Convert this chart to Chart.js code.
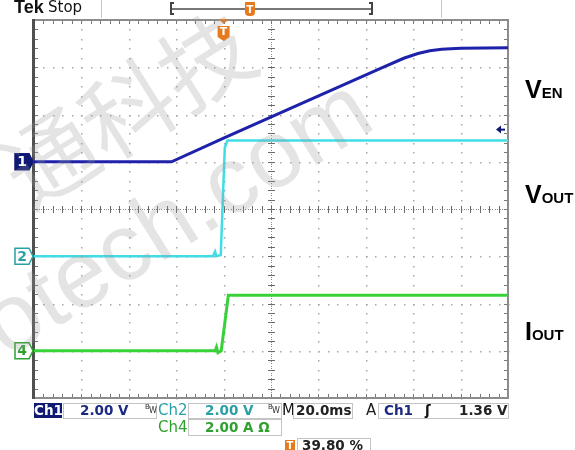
<!DOCTYPE html>
<html>
<head>
<meta charset="utf-8">
<script src="https://cdn.jsdelivr.net/npm/chart.js@4"></script>
<style>
  html, body { margin:0; padding:0; background:#fff; }
  #wrap { position:relative; width:575px; height:450px; overflow:hidden; background:#fff; }
  #c { position:absolute; left:0; top:0; }
  .t { position:absolute; white-space:nowrap; font-family:"DejaVu Sans", sans-serif; font-weight:bold; font-size:13.5px; line-height:15px; }
  .box { position:absolute; border:1px solid #c4c4c4; box-sizing:border-box; background:#fff; }
  .lbl { position:absolute; font-family:"Liberation Sans", Arial, sans-serif; font-weight:bold; font-size:25px; line-height:25px; color:#000; white-space:nowrap; }
  .lbl span { font-size:15px; }
  .wm { position:absolute; white-space:nowrap; color:rgba(150,150,150,0.26); transform-origin:center center; pointer-events:none; }
  .bw { position:absolute; font-family:"DejaVu Sans", sans-serif; color:#333; white-space:nowrap; }
</style>
</head>
<body>
<div id="wrap">
  <canvas id="c" width="575" height="450"></canvas>

  <!-- top status bar -->
  <div class="t" style="left:14px;top:-2px;font-family:'Liberation Sans',Arial,sans-serif;font-size:18px;line-height:19px;color:#111;">Tek</div>
  <div class="t" style="left:48px;top:-1px;font-family:'DejaVu Sans',sans-serif;font-weight:normal;font-size:15px;line-height:17px;color:#111;">Stop</div>
  <div style="position:absolute;left:101px;top:0;width:1px;height:18px;background:#c8c8c8;"></div>
  <div style="position:absolute;left:441px;top:0;width:1px;height:18px;background:#c8c8c8;"></div>
  <div style="position:absolute;left:170px;top:2px;width:2px;height:13px;background:#444;"></div>
  <div style="position:absolute;left:170px;top:2px;width:4px;height:2px;background:#444;"></div>
  <div style="position:absolute;left:170px;top:13px;width:4px;height:2px;background:#444;"></div>
  <div style="position:absolute;left:172px;top:8px;width:200px;height:2px;background:#777;"></div>
  <div style="position:absolute;left:371px;top:2px;width:2px;height:13px;background:#444;"></div>
  <div style="position:absolute;left:369px;top:2px;width:4px;height:2px;background:#444;"></div>
  <div style="position:absolute;left:369px;top:13px;width:4px;height:2px;background:#444;"></div>
  <div style="position:absolute;left:245px;top:2px;width:10px;height:3px;background:#e67a1e;"></div>
  <div class="t" style="left:245px;top:4px;width:10px;height:12px;background:#e67a1e;color:#fff;font-size:10px;line-height:12px;text-align:center;border-radius:0 0 4px 4px;">T</div>

  <!-- right side labels -->
  <div class="lbl" style="left:525px;top:77px;">V<span>EN</span></div>
  <div class="lbl" style="left:525px;top:182px;">V<span>OUT</span></div>
  <div class="lbl" style="left:525px;top:319px;">I<span>OUT</span></div>

  <!-- bottom readouts -->
  <div class="t" style="left:34px;top:403px;width:28px;height:15px;background:#101a72;color:#fff;text-align:center;">Ch1</div>
  <div class="box" style="left:63px;top:403px;width:94px;height:16px;"></div>
  <div class="t" style="left:80px;top:403px;color:#1c2a82;">2.00 V</div>
  <div class="bw" style="left:145px;top:403px;font-size:7px;">B</div>
  <div class="bw" style="left:149px;top:406px;font-size:8px;">W</div>
  <div class="t" style="left:158px;top:403px;color:#2a9fa6;font-weight:normal;font-size:15px;">Ch2</div>
  <div class="box" style="left:188px;top:403px;width:94px;height:16px;"></div>
  <div class="t" style="left:205px;top:403px;color:#2a9fa6;">2.00 V</div>
  <div class="bw" style="left:268px;top:403px;font-size:7px;">B</div>
  <div class="bw" style="left:272px;top:406px;font-size:8px;">W</div>
  <div class="t" style="left:282px;top:403px;color:#111;font-weight:normal;font-size:15px;">M</div>
  <div class="box" style="left:293px;top:403px;width:60px;height:16px;"></div>
  <div class="t" style="left:296px;top:403px;color:#222;">20.0ms</div>
  <div class="t" style="left:366px;top:403px;color:#222;font-weight:normal;font-size:15px;">A</div>
  <div class="box" style="left:378px;top:403px;width:131px;height:16px;"></div>
  <div class="t" style="left:384px;top:403px;color:#1c2a82;">Ch1</div>
  <div class="t" style="left:425px;top:403px;color:#111;">ʃ</div>
  <div class="t" style="left:459px;top:403px;color:#222;">1.36 V</div>

  <div class="t" style="left:158px;top:420px;color:#2ea12e;font-weight:normal;font-size:15px;">Ch4</div>
  <div class="box" style="left:188px;top:419px;width:94px;height:17px;"></div>
  <div class="t" style="left:205px;top:420px;color:#2ea12e;">2.00 A Ω</div>

  <div class="t" style="left:285px;top:440px;width:10px;height:11px;background:#e67a1e;color:#fff;font-size:10px;line-height:11px;text-align:center;">T</div>
  <div class="box" style="left:297px;top:438px;width:74px;height:16px;"></div>
  <div class="t" style="left:302px;top:438px;color:#222;">39.80 %</div>

  <!-- watermark -->
  <div class="wm" style="left:125px;top:105px;font-family:'Noto Sans CJK SC',sans-serif;font-size:92px;line-height:92px;transform:translate(-50%,-50%) rotate(-32deg);">通科技</div>
  <div class="wm" style="left:175px;top:215px;font-family:'Liberation Sans',Arial,sans-serif;font-size:95px;line-height:95px;transform:translate(-50%,-50%) rotate(-32deg);">otech.com</div>
</div>

<script>
// ---- data ----
// time axis: ms relative to trigger; 20 ms/div, 10 divisions
const timeDivLabels = [-80, -60, -40, -20, 0, 20, 40, 60, 80, 100, 120];

// Ch1: V_EN (volts), 2 V/div, ground at +1 div
const ch1_time = [-80, -22, 0, 32, 66, 76, 82, 87, 92, 100, 120];
const ch1_volts = [0, 0, 1.0, 2.43, 3.94, 4.38, 4.58, 4.70, 4.76, 4.80, 4.83];

// Ch2: V_OUT (volts), 2 V/div, ground at -1 div
const ch2_time = [-80, -4.5, -3.6, -3.0, -1.2, 0.5, 1.6, 120];
const ch2_volts = [0, 0, 0.2, 0.0, 0.05, 4.6, 4.9, 4.9];

// Ch4: I_OUT (amps), 2 A/div, ground at -3 div
const ch4_time = [-80, -3.5, -3.0, -2.4, -1.0, 2.0, 120];
const ch4_amps = [0, 0, 0.15, -0.08, 0, 2.35, 2.35];

const channelGroundDiv = { ch1: 1, ch2: -1, ch4: -3 };
const channelPerDiv = { ch1: 2, ch2: 2, ch4: 2 };
const triggerLevelV = 1.36;

function toDiv(times, vals, ch) {
  return times.map((t, i) => ({ x: t, y: channelGroundDiv[ch] + vals[i] / channelPerDiv[ch] }));
}

const gridPlugin = {
  id: 'scopeGrid',
  beforeDatasetsDraw(chart) {
    const ctx = chart.ctx, xs = chart.scales.x, ys = chart.scales.y;
    const { left, right, top, bottom } = chart.chartArea;
    ctx.save();
    ctx.fillStyle = '#a8a8a8';
    for (let i = 1; i < 10; i++) {
      if (i === 5) continue;
      const px = Math.round(xs.getPixelForValue(-80 + i * 20));
      for (let k = 0; k <= 40; k++) {
        const py = ys.getPixelForValue(-4 + k * 0.2);
        ctx.fillRect(px, Math.round(py), 1.5, 1.5);
      }
    }
    for (let j = 1; j < 8; j++) {
      if (j === 4) continue;
      const py = Math.round(ys.getPixelForValue(-4 + j));
      for (let k = 0; k <= 50; k++) {
        const px = xs.getPixelForValue(-80 + k * 4);
        ctx.fillRect(Math.round(px), py, 1.5, 1.5);
      }
    }
    ctx.fillStyle = '#8a8a8a';
    const cx = Math.round(xs.getPixelForValue(20));
    const cy = Math.round(ys.getPixelForValue(0));
    for (let p = top; p <= bottom; p += 2.4) ctx.fillRect(cx, Math.round(p), 1, 1);
    for (let p = left; p <= right; p += 2.4) ctx.fillRect(Math.round(p), cy, 1, 1);
    ctx.fillStyle = '#6a6a6a';
    for (let k = 0; k <= 40; k++) {
      const py = Math.round(ys.getPixelForValue(-4 + k * 0.2));
      ctx.fillRect(cx - 3, py, 7, 1);
    }
    for (let k = 0; k <= 50; k++) {
      const px = Math.round(xs.getPixelForValue(-80 + k * 4));
      ctx.fillRect(px, cy - 3, 1, 7);
    }
    ctx.fillStyle = '#777';
    for (let k = 0; k <= 50; k++) {
      const px = Math.round(xs.getPixelForValue(-80 + k * 4));
      ctx.fillRect(px, top, 1, 4);
      ctx.fillRect(px, bottom - 4, 1, 4);
    }
    for (let k = 0; k <= 40; k++) {
      const py = Math.round(ys.getPixelForValue(-4 + k * 0.2));
      ctx.fillRect(left, py, 4, 1);
      ctx.fillRect(right - 4, py, 4, 1);
    }
    ctx.strokeStyle = '#8c8c8c';
    ctx.lineWidth = 2;
    ctx.strokeRect(left, top, right - left, bottom - top);
    ctx.fillStyle = '#505050';
    ctx.fillRect(left - 2, top - 1, 3, bottom - top + 2);
    ctx.restore();
  },
  afterDraw(chart) {
    const ctx = chart.ctx, xs = chart.scales.x, ys = chart.scales.y;
    const { left, right, top } = chart.chartArea;
    ctx.save();
    const marks = [
      { ch: 'ch1', txt: '1', fill: '#101a72', stroke: '#101a72', color: '#fff' },
      { ch: 'ch2', txt: '2', fill: '#fff', stroke: '#2a9fa6', color: '#2a9fa6' },
      { ch: 'ch4', txt: '4', fill: '#fff', stroke: '#2ea12e', color: '#2ea12e' }
    ];
    marks.forEach(m => {
      const py = ys.getPixelForValue(channelGroundDiv[m.ch]);
      const x0 = left - 19, x1 = left - 5;
      ctx.beginPath();
      ctx.moveTo(x0, py - 8);
      ctx.lineTo(x1, py - 8);
      ctx.lineTo(left - 1, py);
      ctx.lineTo(x1, py + 8);
      ctx.lineTo(x0, py + 8);
      ctx.closePath();
      ctx.fillStyle = m.fill;
      ctx.fill();
      ctx.lineWidth = 1.5;
      ctx.strokeStyle = m.stroke;
      ctx.stroke();
      ctx.fillStyle = m.color;
      ctx.font = 'bold 14px "DejaVu Sans", sans-serif';
      ctx.textAlign = 'center';
      ctx.textBaseline = 'middle';
      ctx.fillText(m.txt, x0 + 7, py + 1);
    });
    const ty = ys.getPixelForValue(channelGroundDiv.ch1 + triggerLevelV / channelPerDiv.ch1);
    ctx.fillStyle = '#101a72';
    ctx.beginPath();
    ctx.moveTo(right - 12, ty);
    ctx.lineTo(right - 7, ty - 4);
    ctx.lineTo(right - 7, ty + 4);
    ctx.closePath();
    ctx.fill();
    ctx.fillRect(right - 8, ty - 1, 5, 2);
    const tx = xs.getPixelForValue(0);
    ctx.fillStyle = '#e67a1e';
    ctx.beginPath();
    ctx.moveTo(tx - 5, top - 1);
    ctx.lineTo(tx + 5, top - 1);
    ctx.lineTo(tx, top + 4);
    ctx.closePath();
    ctx.fill();
    ctx.beginPath();
    ctx.moveTo(tx - 6, top + 6);
    ctx.lineTo(tx + 6, top + 6);
    ctx.lineTo(tx + 6, top + 17);
    ctx.lineTo(tx, top + 21);
    ctx.lineTo(tx - 6, top + 17);
    ctx.closePath();
    ctx.fill();
    ctx.fillStyle = '#fff';
    ctx.font = 'bold 11px "DejaVu Sans", sans-serif';
    ctx.textAlign = 'center';
    ctx.textBaseline = 'middle';
    ctx.fillText('T', tx, top + 12);
    ctx.restore();
  }
};

new Chart(document.getElementById('c'), {
  type: 'line',
  data: {
    datasets: [
      { label: 'VOUT', data: toDiv(ch2_time, ch2_volts, 'ch2'), borderColor: '#40dde6', borderWidth: 2.5, pointRadius: 0, tension: 0 },
      { label: 'IOUT', data: toDiv(ch4_time, ch4_amps, 'ch4'), borderColor: '#38d238', borderWidth: 3, pointRadius: 0, tension: 0 },
      { label: 'VEN', data: toDiv(ch1_time, ch1_volts, 'ch1'), borderColor: '#1e22aa', borderWidth: 3, pointRadius: 0, tension: 0 }
    ]
  },
  options: {
    responsive: false,
    animation: false,
    devicePixelRatio: 1,
    layout: { padding: { left: 34, top: 20, right: 67, bottom: 52 } },
    plugins: { legend: { display: false }, tooltip: { enabled: false } },
    scales: {
      x: { type: 'linear', min: timeDivLabels[0], max: timeDivLabels[timeDivLabels.length - 1], display: false },
      y: { type: 'linear', min: -4, max: 4, display: false }
    }
  },
  plugins: [gridPlugin]
});
</script>
</body>
</html>
